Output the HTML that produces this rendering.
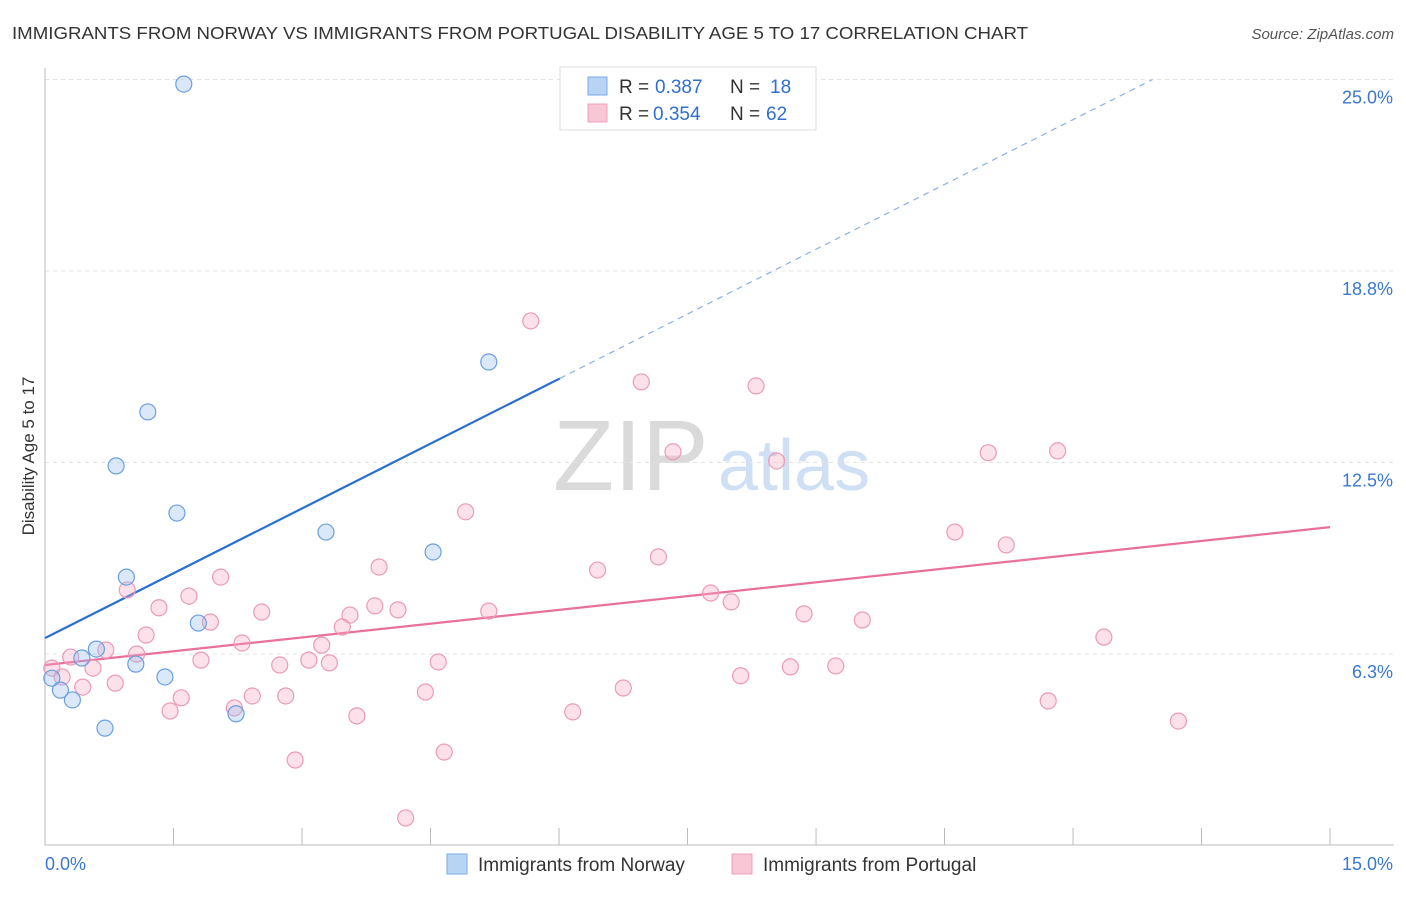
<!DOCTYPE html>
<html><head><meta charset="utf-8"><style>
body{margin:0;background:#fff;font-family:"Liberation Sans",sans-serif;}
svg text{font-family:"Liberation Sans",sans-serif;}
</style></head><body>
<svg id="chart" width="1406" height="892" xmlns="http://www.w3.org/2000/svg">
<text x="12" y="39" font-size="17.5" fill="#333" textLength="1016" lengthAdjust="spacingAndGlyphs">IMMIGRANTS FROM NORWAY VS IMMIGRANTS FROM PORTUGAL DISABILITY AGE 5 TO 17 CORRELATION CHART</text>
<text x="1394" y="39" font-size="15" fill="#555" font-style="italic" text-anchor="end">Source: ZipAtlas.com</text>
<text x="553" y="490" font-size="100" fill="#dadada" font-family="Liberation Serif">ZIP</text>
<text x="718" y="490" font-size="72" fill="#cfe0f4">atlas</text>
<text transform="translate(34,456) rotate(-90)" font-size="17" fill="#333" text-anchor="middle">Disability Age 5 to 17</text>
<g id="grid"></g><g id="ticks"></g><g id="lines"></g><g id="pts"></g>
<g>
<rect x="560" y="67" width="256" height="63" fill="#fff" stroke="#ddd"/>
<rect x="588" y="77" width="19" height="18" fill="#b8d4f5" stroke="#7aaae6"/>
<text x="619" y="93" font-size="19" fill="#333">R =</text><text x="655" y="93" font-size="19" fill="#2f6fd0">0.387</text>
<text x="730" y="93" font-size="19" fill="#333">N =</text><text x="770" y="93" font-size="19" fill="#2f6fd0">18</text>
<rect x="588" y="104" width="19" height="18" fill="#f8c6d5" stroke="#eea0bc"/>
<text x="619" y="120" font-size="19" fill="#333">R =</text><text x="653" y="120" font-size="19" fill="#2f6fd0">0.354</text>
<text x="730" y="120" font-size="19" fill="#333">N =</text><text x="766" y="120" font-size="19" fill="#2f6fd0">62</text>
</g>
<g>
<rect x="447" y="854" width="20" height="20" fill="#b8d4f5" stroke="#7aaae6"/>
<text x="478" y="871" font-size="19" fill="#333">Immigrants from Norway</text>
<rect x="732" y="854" width="20" height="20" fill="#f8c6d5" stroke="#eea0bc"/>
<text x="763" y="871" font-size="19" fill="#333">Immigrants from Portugal</text>
</g>
</svg>
<script>
const yTicks=[25.0,18.75,12.5,6.25];
const yTickLabels=["25.0%","18.8%","12.5%","6.3%"];
const xMinLabel="0.0%", xMaxLabel="15.0%";
const norwayX=[1.62,5.18,1.20,0.83,1.54,3.28,4.53,0.95,1.79,0.60,0.43,1.06,1.40,0.08,0.18,0.32,2.23,0.70];
const norwayY=[24.85,15.78,14.15,12.39,10.85,10.23,9.58,8.76,7.26,6.41,6.12,5.92,5.50,5.46,5.07,4.75,4.30,3.83];
const portugalX=[5.67,6.96,8.30,7.33,8.54,11.01,11.82,4.91,10.62,11.22,7.16,6.45,3.90,2.05,0.96,1.68,7.77,8.01,1.33,2.53,3.85,4.12,5.18,3.56,8.86,9.54,1.93,3.47,1.18,12.36,2.30,3.23,0.71,1.07,0.30,1.82,3.08,4.59,2.74,3.32,0.56,0.08,8.70,9.23,8.12,0.20,0.82,0.44,6.75,4.44,2.42,2.81,1.59,11.71,2.21,1.46,6.16,3.64,13.23,4.66,2.92,4.21];
const portugalY=[17.12,15.13,15.00,12.85,12.55,12.82,12.88,10.89,10.23,9.81,9.42,8.99,9.09,8.76,8.34,8.14,8.24,7.95,7.76,7.62,7.82,7.69,7.65,7.52,7.56,7.36,7.29,7.13,6.87,6.80,6.61,6.54,6.38,6.25,6.15,6.05,6.05,5.99,5.89,5.96,5.79,5.79,5.83,5.86,5.54,5.50,5.30,5.17,5.14,5.01,4.88,4.88,4.82,4.72,4.49,4.39,4.36,4.23,4.06,3.05,2.79,0.90];
const norwayTrend=[6.77,1.41]; // intercept, slope
const portugalTrend=[5.89,0.30];
const NS="http://www.w3.org/2000/svg";
const X=v=>45+v*85.67, Y=v=>845.5-v*30.64;
function mk(t,a,p){const e=document.createElementNS(NS,t);for(const k in a)e.setAttribute(k,a[k]);p.appendChild(e);return e;}
const grid=document.getElementById('grid'),ticks=document.getElementById('ticks'),lines=document.getElementById('lines'),pts=document.getElementById('pts');
yTicks.forEach((v,i)=>{
 const l=mk('line',{x1:45,x2:1394,y1:Y(v),y2:Y(v),stroke:'#e4e4e4','stroke-dasharray':'4,4'},grid);
 
 
 const t=mk('text',{x:1393,y:Y(v)+24,'font-size':18,fill:'#3a78d0','text-anchor':'end'},ticks);
 t.textContent=yTickLabels[i];
 
 
});
const ax=mk('line',{x1:45,x2:45,y1:68,y2:845,stroke:'#bbb'},ticks);


const bx=mk('line',{x1:45,x2:1394,y1:845,y2:845,stroke:'#bbb'},ticks);


for(let i=0;i<=10;i++){const tk=mk('line',{x1:X(i*1.5),x2:X(i*1.5),y1:828,y2:845,stroke:'#bbb'},ticks);
 
 }
let t0=mk('text',{x:45,y:870,'font-size':18,fill:'#3a78d0'},ticks);t0.textContent=xMinLabel;


let t1=mk('text',{x:1393,y:870,'font-size':18,fill:'#3a78d0','text-anchor':'end'},ticks);t1.textContent=xMaxLabel;


portugalX.forEach((x,i)=>{const c=mk('circle',{cx:X(x),cy:Y(portugalY[i]),r:8,fill:'rgba(245,170,195,0.35)',stroke:'#eb9ab8','stroke-width':1.2},pts);
 
 });
norwayX.forEach((x,i)=>{const c=mk('circle',{cx:X(x),cy:Y(norwayY[i]),r:8,fill:'rgba(150,190,240,0.35)',stroke:'#6b9fe0','stroke-width':1.2},pts);
 
 });
const ns=mk('line',{x1:X(0),y1:Y(norwayTrend[0]),x2:X(6.01),y2:Y(norwayTrend[0]+norwayTrend[1]*6.01),stroke:'#2a6fd0','stroke-width':2.2},lines);


const xe=(25.0-norwayTrend[0])/norwayTrend[1];
const nd=mk('line',{x1:X(6.01),y1:Y(norwayTrend[0]+norwayTrend[1]*6.01),x2:X(xe),y2:Y(25.0),stroke:'#8ab0e6','stroke-width':1.2,'stroke-dasharray':'6,5'},lines);


const pl=mk('line',{x1:X(0),y1:Y(portugalTrend[0]),x2:X(15),y2:Y(portugalTrend[0]+portugalTrend[1]*15),stroke:'#e8709a','stroke-width':2.2},lines);


</script>
</body></html>
